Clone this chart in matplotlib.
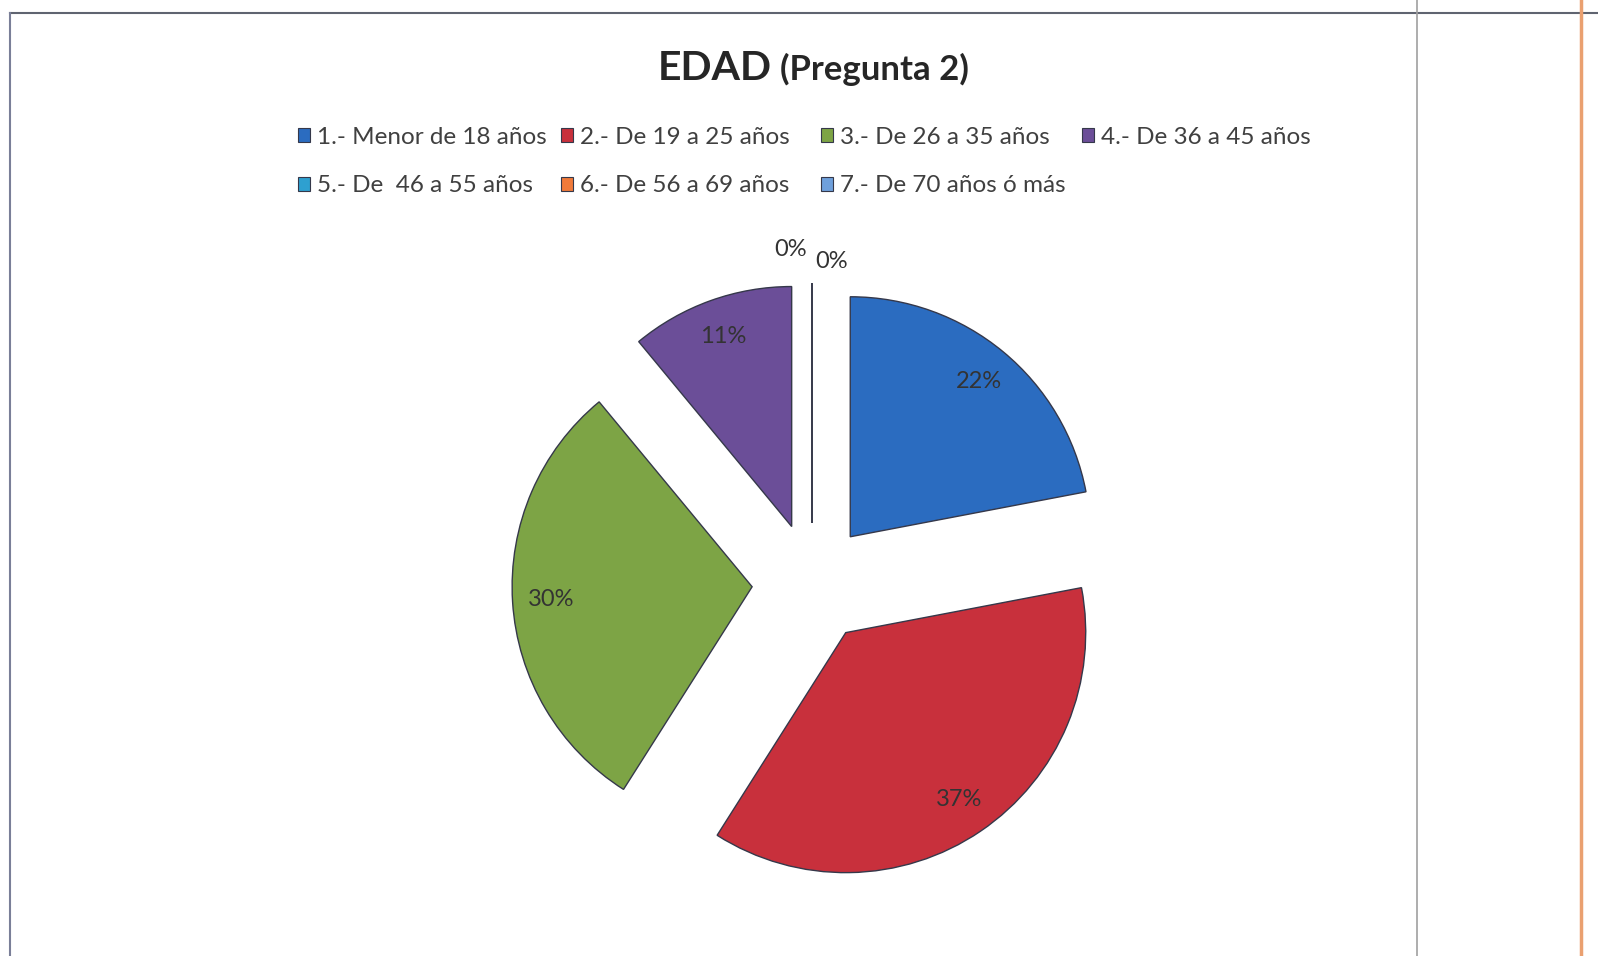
import matplotlib.pyplot as plt
from matplotlib.lines import Line2D
from matplotlib.patches import Patch

plt.rcParams['font.family'] = ['Lato', 'DejaVu Sans']

categories = ['1.- Menor de 18 años', '2.- De 19 a 25 años', '3.- De 26 a 35 años',
              '4.- De 36 a 45 años', '5.- De  46 a 55 años', '6.- De 56 a 69 años',
              '7.- De 70 años ó más']
values = [22, 37, 30, 11, 0, 0, 0]
colors = ['#2b6cc0', '#c8303c', '#7da445', '#6b4e98', '#2ea0d0', '#f07a3a', '#6fa0dc']

W, H = 1598, 956
fig = plt.figure(figsize=(W / 100, H / 100), dpi=100)

# pie centre / radius in pixels
cx, cy, R = 812, 583, 240
lim = 1.45
ax = fig.add_axes([(cx - lim * R) / W, (H - cy - lim * R) / H, 2 * lim * R / W, 2 * lim * R / H])

wedges, texts, autotexts = ax.pie(
    values, colors=colors, startangle=90, counterclock=False,
    explode=[0.25] * len(values), pctdistance=0.84,
    autopct='%1.0f%%',
    wedgeprops=dict(edgecolor='#35384a', linewidth=1.0),
    textprops=dict(fontsize=17, color='#333333'))
ax.set_xlim(-lim, lim)
ax.set_ylim(-lim, lim)
ax.axis('off')

# zero slices: Excel puts two labels above the pie, third hidden
zero_pos = [(-0.09, 1.39), (0.08, 1.34)]
zi = 0
for v, t in zip(values, autotexts):
    if v == 0:
        if zi < len(zero_pos):
            t.set_position(zero_pos[zi])
        else:
            t.set_visible(False)
        zi += 1

# legend: Excel grid with fixed column slots, 4 per row
col_x = [298, 561, 821, 1082]
row_y = [137, 186]
for i, (lab, c) in enumerate(zip(categories, colors)):
    h = Patch(facecolor=c, edgecolor='#35384a', linewidth=0.8)
    leg = fig.legend([h], [lab], loc='center left',
                     bbox_to_anchor=(col_x[i % 4] / W, 1 - row_y[i // 4] / H),
                     frameon=False, fontsize=17.5, handlelength=0.5,
                     handleheight=0.5, handletextpad=0.3,
                     borderaxespad=0, borderpad=0)
    leg.get_texts()[0].set_color('#404040')

# title
fig.text(658 / W, 1 - 80 / H, 'EDAD', fontsize=29.5, fontweight='bold',
         color='#262626', ha='left', va='baseline')
fig.text(780 / W, 1 - 80 / H, '(Pregunta 2)', fontsize=25, fontweight='bold',
         color='#262626', ha='left', va='baseline')

# frame lines from the scanned page
fig.add_artist(Line2D([10 / W, 1], [1 - 13 / H] * 2, color='#5f6470', lw=1.5))
fig.add_artist(Line2D([10 / W] * 2, [0, 1 - 13 / H], color='#7a7f98', lw=1.5))
fig.add_artist(Line2D([1417 / W] * 2, [0, 1], color='#a0a0a0', lw=1.2))
fig.add_artist(Line2D([1581 / W] * 2, [0, 1], color='#eaa070', lw=2.5))

fig.savefig('out.png', dpi=100, facecolor='white')
